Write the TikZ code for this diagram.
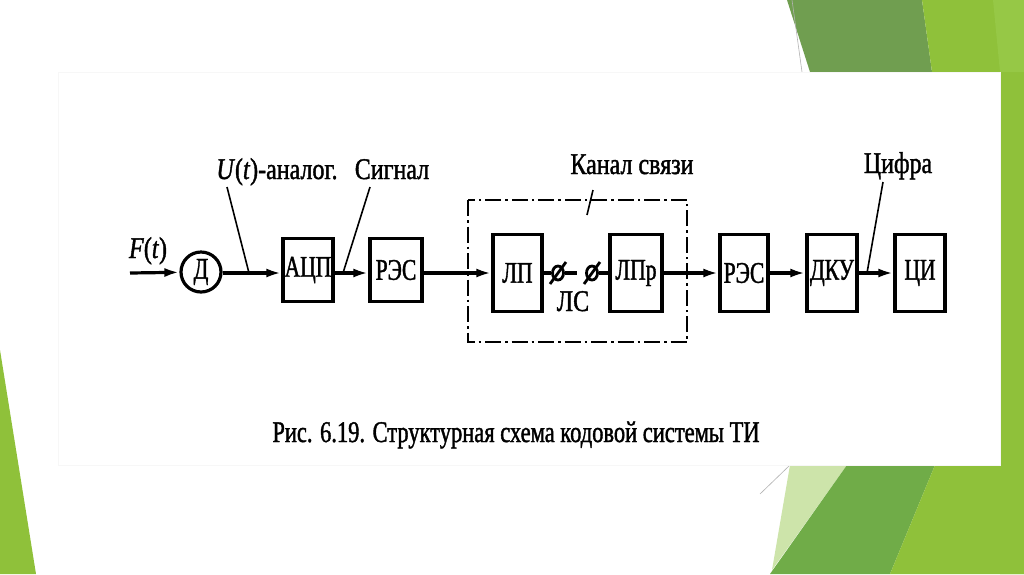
\documentclass[tikz,border=0pt]{standalone}
\usepackage{fontspec}
\setmainfont{Liberation Serif}[FakeStretch=0.8, FakeBold=1.3]
\newfontfamily\boxfam{Liberation Serif}[FakeStretch=0.72, FakeBold=1.3]
\newfontfamily\capfam{Liberation Serif}[FakeStretch=0.75, FakeBold=1.3]
\usetikzlibrary{arrows.meta,shapes.geometric}
\definecolor{gdark}{RGB}{112,158,80}
\definecolor{glime}{RGB}{143,193,58}
\definecolor{gmed}{RGB}{112,172,72}
\definecolor{gpale}{RGB}{205,228,170}
\definecolor{glite}{RGB}{150,200,70}
\newcommand\dfont{\fontsize{30}{34}\selectfont}
\newcommand\bfontx{\boxfam\fontsize{30}{34}\selectfont}
\begin{document}
\begin{tikzpicture}[x=1pt,y=-1pt,
  box/.style={draw, line width=3.4pt, inner sep=0pt, font=\bfontx},
  smallbox/.style={box, minimum height=63pt},
  tallbox/.style={box, minimum height=77pt},
  arr/.style={line width=3.2pt, -{Latex[length=15pt,width=9pt]}},
  wire/.style={line width=3.2pt},
  ptr/.style={line width=1.6pt},
  lbl/.style={font=\dfont, inner sep=0pt, anchor=base},
  sep/.style={ellipse, draw, line width=2.8pt, minimum width=11pt, minimum height=14pt, inner sep=0pt},
  slash/.style={line width=2.8pt},
  frame/.style={line width=2.2pt, dash pattern=on 16pt off 4pt on 2.5pt off 4pt}]
\useasboundingbox (0,0) rectangle (1024,574);
\fill[white] (0,0) rectangle (1024,574);
% background decoration
\fill[gdark] (787,0) -- (922,0) -- (932,72) -- (810,72) -- cycle;
\fill[glime] (922,0) -- (1024,0) -- (1024,574) -- (1000,574) -- (1000,72) -- (932,72) -- cycle;
\fill[glite] (993,0) -- (1024,0) -- (1024,72) -- (1000,72) -- cycle;
\draw[gray!60, line width=0.6pt] (792,0) -- (802,72);
\fill[glime] (0,350) -- (36,574) -- (0,574) -- cycle;
\fill[gpale] (790,465) -- (847,465) -- (772,570) -- cycle;
\fill[gmed] (847,465) -- (935,465) -- (890,574) -- (770,574) -- cycle;
\fill[glime] (935,465) -- (1024,465) -- (1024,574) -- (890,574) -- cycle;
\draw[gray!60, line width=0.6pt] (760,494) -- (790,465);
% panel
\fill[white] (58,72) rectangle (1000,465);
\draw[gray!6, line width=0.5pt] (58,72) rectangle (1000,465);
% nodes
\node[circle, draw, line width=3.2pt, minimum size=40pt, inner sep=0pt, font=\bfontx] (d) at (201,272) {Д};
\node[smallbox, minimum width=50pt] (adc) at (308,270) {АЦП};
\node[smallbox, minimum width=52pt] (res1) at (396,270) {РЭС};
\node[tallbox, minimum width=49pt] (lp) at (517.5,273) {ЛП};
\node[tallbox, minimum width=52pt] (lpr) at (636,273) {ЛПр};
\node[tallbox, minimum width=48pt] (res2) at (744,273) {РЭС};
\node[tallbox, minimum width=50pt] (dku) at (832,273) {ДКУ};
\node[tallbox, minimum width=50pt] (ci) at (920,273) {ЦИ};
\node[sep] (s1) at (558,273) {};
\node[sep] (s2) at (592,273) {};
\draw[slash] (550,284) -- (566,262);
\draw[slash] (584,284) -- (600,262);
% dash-dot frame
\draw[frame] (468,200) rectangle (687,342);
% labels
\node[lbl] (ft) at (148,258) {\textit{F}(\textit{t})};
\node[lbl] (ut) at (277,179) {\textit{U}(\textit{t})-аналог.};
\node[lbl] (sig) at (392,179) {Сигнал};
\node[lbl] (kan) at (632,174) {Канал связи};
\node[lbl] (cif) at (898,173) {Цифра};
\node[lbl] (ls) at (573,311) {ЛС};
\node[lbl, font=\capfam\fontsize{30}{34}\selectfont] (cap) at (516,442) {Рис. 6.19. Структурная схема кодовой системы ТИ};
% coordinates
\coordinate (in) at (130,273);
\coordinate (u1) at (227,187);
\coordinate (u2) at (249,273);
\coordinate (g1) at (370,187);
\coordinate (g2) at (343,273);
\coordinate (c1) at (883,182);
\coordinate (c2) at (867,273);
\coordinate (k1) at (593,190);
\coordinate (k2) at (587,215);
\coordinate (gapend) at (577,273);
% connectors
\draw[arr] (in) -- (d);
\draw[arr] (d.east |- in) -- (adc.west |- in);
\draw[arr] (adc.east |- in) -- (res1.west |- in);
\draw[arr] (res1.east |- in) -- (lp.west |- in);
\draw[wire] (lp) -- (s1);
\draw[wire] (s1) -- (gapend);
\draw[wire] (s2) -- (lpr);
\draw[arr] (lpr) -- (res2);
\draw[arr] (res2) -- (dku);
\draw[arr] (dku) -- (ci);
\draw[ptr] (u1) -- (u2);
\draw[ptr] (g1) -- (g2);
\draw[ptr] (c1) -- (c2);
\draw[ptr] (k1) -- (k2);
\end{tikzpicture}
\end{document}
